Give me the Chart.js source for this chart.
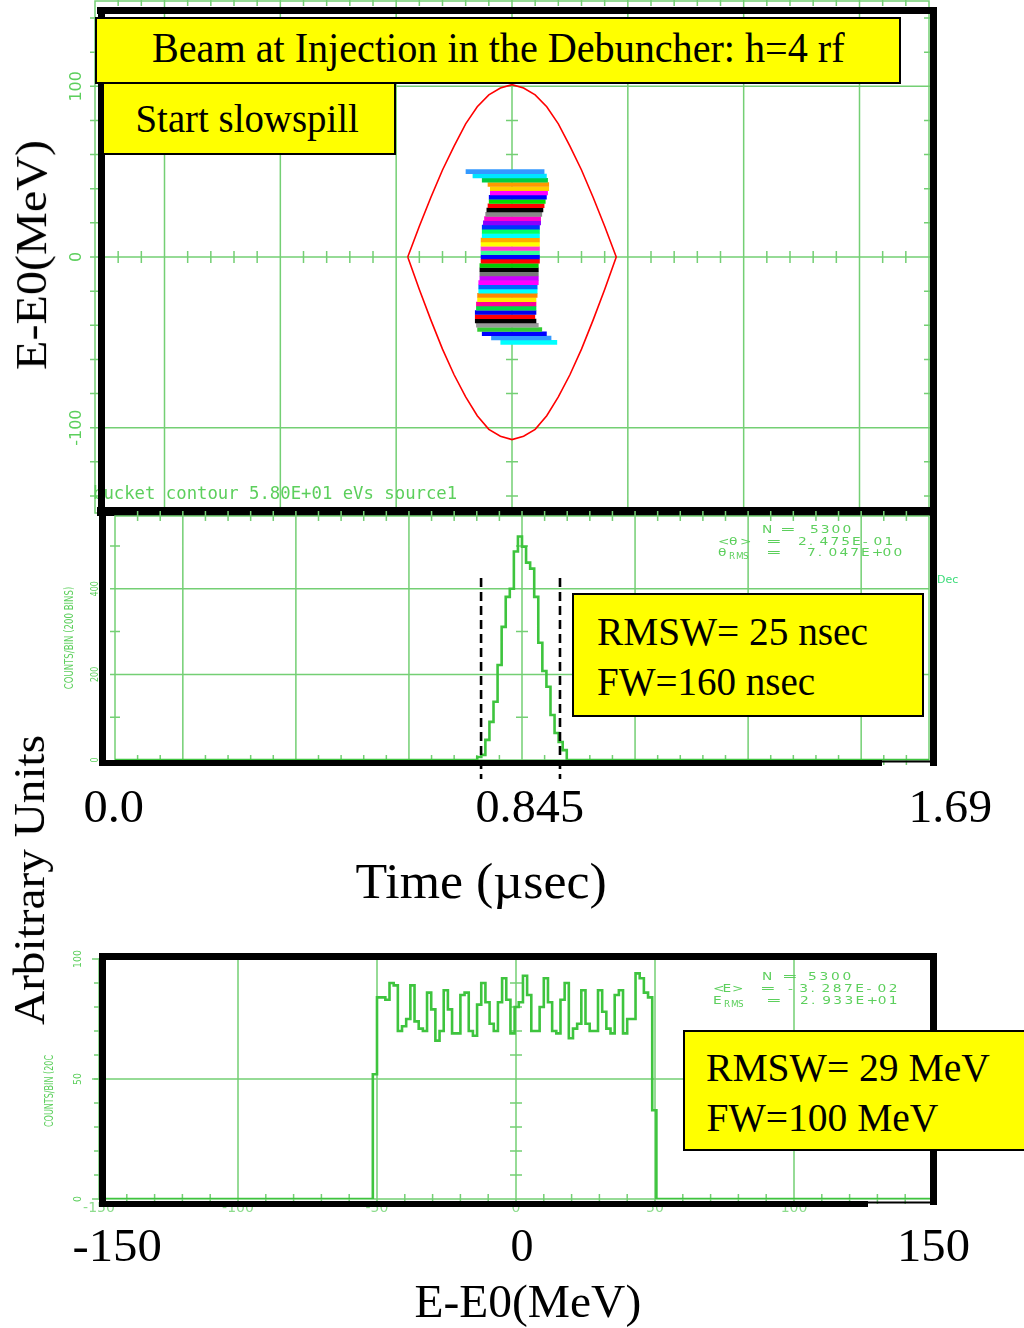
<!DOCTYPE html>
<html>
<head>
<meta charset="utf-8">
<script src="https://cdn.jsdelivr.net/npm/chart.js@4.4.1/dist/chart.umd.min.js"></script>
<style>
  body { margin: 0; background: #fff; }
  #page { position: relative; width: 1024px; height: 1328px; overflow: hidden; background: #fff; }
  canvas { position: absolute; left: 0; top: 0; }
  .t { position: absolute; white-space: pre; line-height: 1; }
  .serif { font-family: "Liberation Serif", "Times New Roman", serif; color: #000; }
  .box { position: absolute; background: #ffff00; border: 2px solid #000; box-sizing: border-box; }
</style>
</head>
<body>
<div id="page">
  <canvas id="phase" width="1024" height="1328"></canvas>
  <canvas id="time" width="1024" height="1328"></canvas>
  <canvas id="energy" width="1024" height="1328"></canvas>
</div>
<script>
// ---- data ----
// phase space stripes (theta in deg, energy in MeV)
const stripeEnergy = [50, 47.5, 45, 42.5, 40, 37.5, 35, 32.5, 30, 27.5, 25, 22.5, 20, 17.5, 15, 12.5, 10, 7.5, 5, 2.5, 0,
  -2.5, -5, -7.5, -10, -12.5, -15, -17.5, -20, -22.5, -25, -27.5, -30, -32.5, -35, -37.5, -40, -42.5, -45, -47.5, -50];
const stripeLeft = [-20, -17, -13, -10.5, -9.5, -9.5, -10, -10, -10.5, -11, -11.5, -12, -12.5, -13, -13, -13, -13.5, -13.5, -13.5, -13.5, -13.5,
  -13.5, -14, -14, -14, -14, -14.5, -14.5, -14.5, -15, -15, -15.5, -15.5, -16, -16, -16, -15.5, -15, -13, -9, -5];
const stripeRight = [14, 15, 15.5, 16, 16, 15.5, 15, 14.5, 14, 13.5, 13, 12.5, 12.5, 12, 12, 12, 12, 12, 12, 12, 12,
  12, 11.5, 11.5, 11.5, 11.5, 11.5, 11, 11, 11, 10.5, 10.5, 10.5, 10.5, 10, 10.5, 11.5, 13, 15, 17, 19.5];

// bucket contour
const sepTheta = [-45, -40, -35, -30, -25, -20, -15, -10, -5, 0, 5, 10, 15, 20, 25, 30, 35, 40, 45];
const sepUpper = [0, 18, 35, 51, 65, 78, 88, 95, 99, 101, 99, 95, 88, 78, 65, 51, 35, 18, 0];
const sepLower = [0, -19, -37, -54, -69, -82, -93, -101, -105, -107, -105, -101, -93, -82, -69, -54, -37, -19, 0];

// time histogram (deg, 200 bins over 360 deg)
const timeStart = -19.8;
const timeBin = 1.8;
const timeCounts = [7, 12, 47, 89, 136, 222, 311, 381, 400, 487, 522, 498, 461, 447, 381, 274, 208, 171, 105, 63, 42, 23];
const fwMarks = [-18.1, 16.8];

// energy histogram (MeV, 200 bins over 300 MeV)
const energyStart = -51.5;
const energyBin = 1.5;
const energyCounts = [52, 84, 84, 83, 90, 89, 70, 72, 75, 89, 74, 71, 70, 86, 79, 66, 70, 87, 79, 69, 69, 85, 86, 70, 68,
  81, 90, 82, 73, 70, 82, 92, 83, 69, 80, 82, 93, 85, 70, 70, 80, 92, 82, 70, 69, 83, 90, 67, 71, 73, 87, 73, 70, 70,
  87, 78, 71, 69, 85, 87, 69, 75, 75, 94, 92, 86, 84, 37];

// tick labels
const phaseYTicks = [100, 0, -100];
const timeYTicks = [0, 200, 400];
const energyYTicks = [0, 50, 100];
const energyXTicks = [-150, -100, -50, 0, 50, 100];
const timeAxisLabels = ['0.0', '0.845', '1.69'];
const energyAxisLabels = ['-150', '0', '150'];

// ---- styles ----
const GRID = '#74cf74';
const HIST = '#3ec43e';
const TXT = '#5ccf5c';
const stripeColors = ['#3399ff', '#00e5ff', '#00cc44', '#ff9900', '#ffcc00', '#ff00ff', '#0000ff', '#00dd00', '#ff0000', '#000000',
  '#888888', '#ff00cc', '#8800ff', '#0033ff', '#00ff66', '#00ffff', '#ffaa00', '#ffff00', '#ff33cc', '#33ff99', '#0000ff',
  '#ff0000', '#00cc00', '#000000', '#777777', '#cc00ff', '#ff00ff', '#0066ff', '#00ffff', '#ff8800', '#ffee00', '#ff0099',
  '#00dd44', '#0000ee', '#ff0000', '#000000', '#999999', '#33cc33', '#0000ff', '#3399ff', '#00ffff'];

Chart.defaults.font.family = "'DejaVu Sans', sans-serif";

function line(ctx, x0, y0, x1, y1, w, color) {
  ctx.save();
  ctx.strokeStyle = color || '#000';
  ctx.lineWidth = w;
  ctx.beginPath();
  ctx.moveTo(x0, y0);
  ctx.lineTo(x1, y1);
  ctx.stroke();
  ctx.restore();
}

function rotText(ctx, txt, x, y, font, sx, color) {
  ctx.save();
  ctx.translate(x, y);
  ctx.rotate(-Math.PI / 2);
  ctx.scale(sx || 1, 1);
  ctx.font = font;
  ctx.fillStyle = color || TXT;
  ctx.textAlign = 'center';
  ctx.textBaseline = 'middle';
  ctx.fillText(txt, 0, 0);
  ctx.restore();
}

// stretched, evenly pitched plotter-style text
function spaced(ctx, txt, x, y, pitch, sx) {
  for (let i = 0; i < txt.length; i++) {
    ctx.save();
    ctx.translate(x + i * pitch, y);
    ctx.scale(sx || 1.25, 1);
    ctx.fillText(txt[i], 0, 0);
    ctx.restore();
  }
}

function stats(ctx, rows, font) {
  ctx.fillStyle = TXT;
  ctx.textBaseline = 'middle';
  ctx.textAlign = 'left';
  rows.forEach(r => {
    ctx.font = font;
    spaced(ctx, r.name, r.nx, r.y, r.np || 10);
    if (r.sub) {
      ctx.font = '8px "DejaVu Sans"';
      spaced(ctx, r.sub, r.nx + 11, r.y + 4, 7, 1.1);
      ctx.font = font;
    }
    spaced(ctx, '=', r.ex, r.y, 10, 1.7);
    spaced(ctx, r.val, r.vx, r.y, r.vp);
  });
}

// grid, ticks and decorations drawn through the chart's own scales
function decor(cfg) {
  return {
    id: 'decor_' + cfg.name,
    beforeDatasetsDraw(chart) {
      const { ctx, chartArea: a, scales: { x, y } } = chart;
      ctx.save();
      ctx.strokeStyle = GRID;
      ctx.lineWidth = 1.5;
      ctx.beginPath();
      cfg.xGrid.forEach(v => {
        const px = x.getPixelForValue(v);
        ctx.moveTo(px, a.top); ctx.lineTo(px, a.bottom);
      });
      cfg.yGrid.forEach(v => {
        const py = y.getPixelForValue(v);
        ctx.moveTo(a.left, py); ctx.lineTo(a.right, py);
      });
      ctx.rect(a.left, a.top, a.right - a.left, a.bottom - a.top);
      cfg.ticks.forEach(t => {
        const n = Math.round((t.to - t.from) / t.step);
        for (let i = 0; i <= n; i++) {
          const v = t.from + i * t.step;
          if (t.axis === 'x') {
            const px = x.getPixelForValue(v), py = y.getPixelForValue(t.at);
            ctx.moveTo(px, py - t.len); ctx.lineTo(px, py + t.len);
          } else {
            const py = y.getPixelForValue(v), px = x.getPixelForValue(t.at);
            ctx.moveTo(px - t.len, py); ctx.lineTo(px + t.len, py);
          }
        }
      });
      ctx.stroke();
      ctx.restore();
    },
    afterDraw(chart) {
      const ctx = chart.ctx;
      ctx.save();
      cfg.labels(chart, ctx);
      ctx.restore();
      cfg.frame(ctx);
    }
  };
}

function baseOptions(pad, xr, yr) {
  return {
    responsive: false,
    animation: false,
    events: [],
    layout: { padding: pad },
    scales: {
      x: { type: 'linear', min: xr[0], max: xr[1], display: false },
      y: { type: 'linear', min: yr[0], max: yr[1], display: false }
    },
    plugins: { legend: { display: false }, tooltip: { enabled: false } },
    elements: { point: { radius: 0 } }
  };
}

// ---- top panel: phase space ----
const stripeSets = stripeEnergy.map((e, i) => ({
  data: [{ x: stripeLeft[i], y: e }, { x: stripeRight[i], y: e }],
  borderColor: stripeColors[i % stripeColors.length],
  borderWidth: 4.6,
  borderCapStyle: 'butt',
  pointRadius: 0
}));
const sepPts = sepTheta.map((t, i) => ({ x: t, y: sepUpper[i] }));
for (let i = sepTheta.length - 1; i >= 0; i--) sepPts.push({ x: sepTheta[i], y: sepLower[i] });

new Chart(document.getElementById('phase'), {
  type: 'line',
  data: { datasets: [...stripeSets, { data: sepPts, borderColor: '#ff0000', borderWidth: 1.6, pointRadius: 0, tension: 0 }] },
  options: baseOptions({ left: 95, right: 1024 - 929, top: 1, bottom: 1328 - 513 }, [-180, 180], [-150, 150]),
  plugins: [decor({
    name: 'phase',
    xGrid: [-150, -100, -50, 0, 50, 100, 150],
    yGrid: [-100, 0, 100],
    ticks: [
      { axis: 'x', from: -170, to: 170, step: 10, at: 0, len: 6 },
      { axis: 'y', from: -140, to: 140, step: 20, at: 0, len: 6 },
      { axis: 'y', from: -140, to: 140, step: 20, at: -180, len: 5 },
      { axis: 'y', from: -140, to: 140, step: 20, at: 180, len: 5 },
      { axis: 'x', from: -170, to: 170, step: 10, at: 150, len: 5 }
    ],
    labels(chart, ctx) {
      const y = chart.scales.y;
      phaseYTicks.forEach(v => rotText(ctx, String(v), 77, y.getPixelForValue(v), '16px "DejaVu Sans"'));
      ctx.font = '17.3px "DejaVu Sans Mono"';
      ctx.fillStyle = TXT;
      ctx.textBaseline = 'middle';
      ctx.fillText('bucket contour 5.80E+01 eVs source1', 93, 495);
    },
    frame(ctx) {
      line(ctx, 97, 10.5, 937, 10.5, 7);
      line(ctx, 101.5, 7, 101.5, 516, 7);
      line(ctx, 933.5, 7, 933.5, 516, 7);
      line(ctx, 97, 511.5, 937, 511.5, 9);
    }
  })]
});

// ---- middle panel: time histogram ----
const timePts = [{ x: -180, y: 0 }];
timeCounts.forEach((c, i) => timePts.push({ x: timeStart + i * timeBin, y: c }));
timePts.push({ x: timeStart + timeCounts.length * timeBin, y: 0 }, { x: 180, y: 0 });

new Chart(document.getElementById('time'), {
  type: 'line',
  data: { datasets: [{ data: timePts, borderColor: HIST, borderWidth: 2.6, stepped: true, pointRadius: 0 }] },
  options: baseOptions({ left: 115, right: 1024 - 929, top: 516, bottom: 1328 - 760 }, [-180, 180], [0, 570]),
  plugins: [decor({
    name: 'time',
    xGrid: [-150, -100, -50, 0, 50, 100, 150],
    yGrid: [200, 400],
    ticks: [
      { axis: 'y', from: 100, to: 500, step: 200, at: 0, len: 6 },
      { axis: 'y', from: 100, to: 500, step: 100, at: -180, len: 5 },
      { axis: 'x', from: -170, to: 170, step: 10, at: 570, len: 5 },
      { axis: 'x', from: -170, to: 170, step: 10, at: 0, len: 5 }
    ],
    labels(chart, ctx) {
      const { x, y } = chart.scales;
      timeYTicks.forEach(v => rotText(ctx, String(v), 95, y.getPixelForValue(v), '10px "DejaVu Sans"', 0.8));
      rotText(ctx, 'COUNTS/BIN (200 BINS)', 70, 638, '13px "DejaVu Sans"', 0.66);
      stats(ctx, [
        { name: 'N', nx: 762, ex: 780, val: '5300', vx: 810, vp: 10.8, y: 530 },
        { name: '<θ>', nx: 718, np: 11, ex: 766, val: '2.475E-01', vx: 798, vp: 10.8, y: 542 },
        { name: 'θ', sub: 'RMS', nx: 718, ex: 766, val: '7.047E+00', vx: 807, vp: 10.8, y: 553 }
      ], '11px "DejaVu Sans"');
      ctx.fillStyle = '#3ddc7a';
      ctx.font = '11px "DejaVu Sans"';
      ctx.fillText('Dec', 937, 580);
      // FW markers
      ctx.save();
      ctx.strokeStyle = '#000';
      ctx.lineWidth = 2.6;
      ctx.setLineDash([9, 5]);
      ctx.beginPath();
      fwMarks.forEach(v => {
        const px = x.getPixelForValue(v);
        ctx.moveTo(px, 578); ctx.lineTo(px, 779);
      });
      ctx.stroke();
      ctx.restore();
    },
    frame(ctx) {
      line(ctx, 102.5, 508, 102.5, 766, 7);
      line(ctx, 933.5, 508, 933.5, 766, 7);
      line(ctx, 99, 763, 882, 763, 6);
      line(ctx, 882, 761.5, 936, 761.5, 2);
    }
  })]
});

// ---- bottom panel: energy histogram ----
const energyPts = [{ x: -150, y: 0 }];
energyCounts.forEach((c, i) => energyPts.push({ x: energyStart + i * energyBin, y: c }));
energyPts.push({ x: energyStart + energyCounts.length * energyBin, y: 0 }, { x: 150, y: 0 });

new Chart(document.getElementById('energy'), {
  type: 'line',
  data: { datasets: [{ data: energyPts, borderColor: HIST, borderWidth: 2.6, stepped: true, pointRadius: 0 }] },
  options: baseOptions({ left: 99, right: 1024 - 933, top: 959, bottom: 1328 - 1199 }, [-150, 150], [0, 100]),
  plugins: [decor({
    name: 'energy',
    xGrid: [-100, -50, 0, 50, 100],
    yGrid: [50],
    ticks: [
      { axis: 'y', from: 10, to: 90, step: 10, at: 0, len: 6 },
      { axis: 'y', from: 10, to: 90, step: 10, at: -150, len: 5 },
      { axis: 'x', from: -140, to: 140, step: 10, at: 0, len: 5 }
    ],
    labels(chart, ctx) {
      const { x, y } = chart.scales;
      energyYTicks.forEach(v => rotText(ctx, String(v), 78, y.getPixelForValue(v), '11px "DejaVu Sans"', 0.85));
      energyYTicks.forEach(v => line(ctx, 92, y.getPixelForValue(v), 99, y.getPixelForValue(v), 1.5, GRID));
      rotText(ctx, 'COUNTS/BIN (20C', 50, 1091, '13px "DejaVu Sans"', 0.62);
      ctx.fillStyle = '#8ddc8d';
      ctx.textAlign = 'center';
      ctx.textBaseline = 'middle';
      ctx.font = '14px "DejaVu Sans"';
      energyXTicks.forEach(v => ctx.fillText(String(v), x.getPixelForValue(v), 1208));
      stats(ctx, [
        { name: 'N', nx: 762, ex: 782, val: '5300', vx: 808, vp: 11.5, y: 977 },
        { name: '<E>', nx: 713, np: 9.5, ex: 760, val: '-3.287E-02', vx: 788, vp: 11.2, y: 989 },
        { name: 'E', sub: 'RMS', nx: 713, ex: 766, val: '2.933E+01', vx: 800, vp: 11.1, y: 1001 }
      ], '11px "DejaVu Sans"');
    },
    frame(ctx) {
      line(ctx, 99, 956.5, 937, 956.5, 7);
      line(ctx, 102.5, 953, 102.5, 1207, 7);
      line(ctx, 933.5, 953, 933.5, 1205, 7);
      line(ctx, 99, 1204, 868, 1204, 6);
      line(ctx, 868, 1202.5, 937, 1202.5, 2);
    }
  })]
});

// ---- serif annotations and yellow boxes ----
const page = document.getElementById('page');

function box(left, top, w, h) {
  const el = document.createElement('div');
  el.className = 'box';
  Object.assign(el.style, { left: left + 'px', top: top + 'px', width: w + 'px', height: h + 'px' });
  page.appendChild(el);
}

function label(text, cx, cy, size, fitW, rot) {
  const el = document.createElement('div');
  el.className = 't serif';
  el.textContent = text;
  el.style.fontSize = size + 'px';
  page.appendChild(el);
  const w = el.offsetWidth, h = el.offsetHeight;
  el.style.left = (cx - w / 2) + 'px';
  el.style.top = (cy - h / 2) + 'px';
  const s = fitW ? fitW / w : 1;
  el.style.transform = (rot ? 'rotate(-90deg) ' : '') + 'scaleX(' + s + ')';
}

function labelLeft(text, left, cy, size, fitW) {
  label(text, left + fitW / 2, cy, size, fitW, false);
}

box(95, 17, 806, 67);
label('Beam at Injection in the Debuncher: h=4 rf', 498, 48, 42, 693);
box(102, 82, 294, 73);
label('Start slowspill', 247, 118, 39, 223);

box(572, 593, 352, 124);
labelLeft('RMSW= 25 nsec', 597, 631, 39, 271);
labelLeft('FW=160 nsec', 597, 681, 39, 218);

box(683, 1030, 350, 121);
labelLeft('RMSW= 29 MeV', 706, 1067, 39, 284);
labelLeft('FW=100 MeV', 706, 1117, 39, 232);

label(timeAxisLabels[0], 114, 807, 46, 61);
label(timeAxisLabels[1], 530, 807, 46, 109);
label(timeAxisLabels[2], 950, 807, 46, 84);
label('Time (\u00b5sec)', 481, 881, 50, 251);

label(energyAxisLabels[0], 117, 1246, 46, 89);
label(energyAxisLabels[1], 522, 1246, 46, 23);
label(energyAxisLabels[2], 933, 1246, 46, 73);
label('E-E0(MeV)', 528, 1302, 46, 227);

label('E-E0(MeV)', 32, 255, 44, 230, true);
label('Arbitrary Units', 30, 880, 44, 290, true);
</script>
</body>
</html>
